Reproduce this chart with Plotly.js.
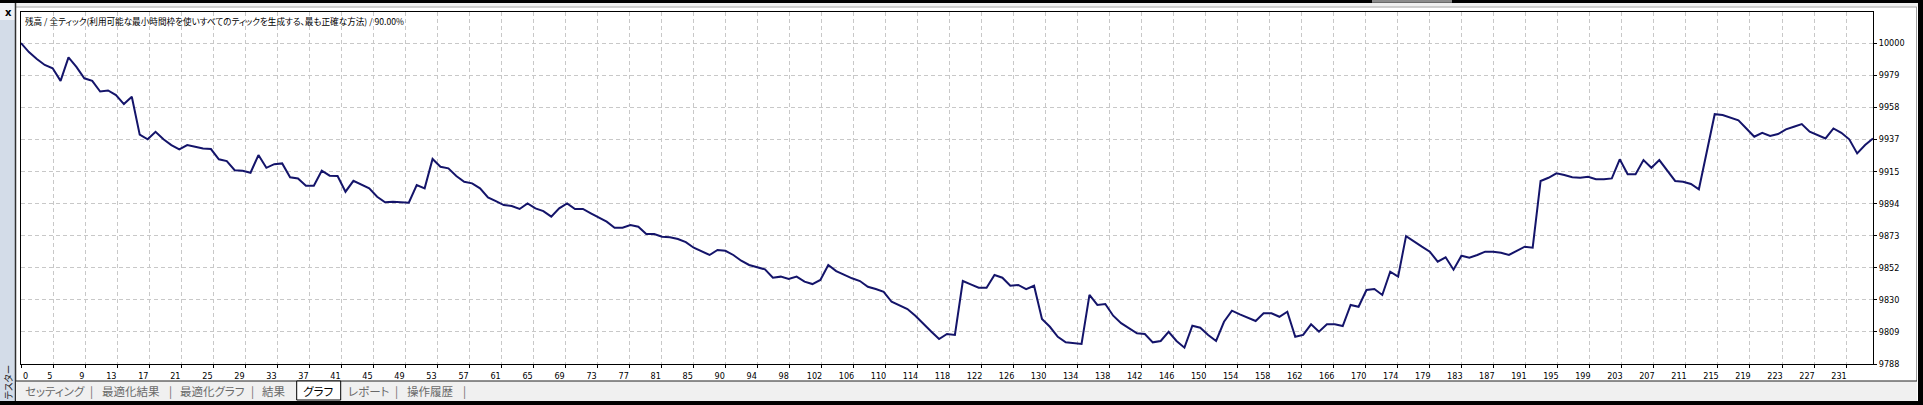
<!DOCTYPE html>
<html>
<head>
<meta charset="utf-8">
<script src="https://cdn.plot.ly/plotly-3.0.1.min.js"></script>
<style>
html,body{margin:0;padding:0;background:#fff;}
#chart{width:1923px;height:405px;}
text{font-feature-settings:"palt" 1;}
</style>
</head>
<body>
<div id="chart"></div>
<script>
// ---- data ----
const titleText = '残高 / 全ティック(利用可能な最小時間枠を使いすべてのティックを生成する、最も正確な方法) / 90.00%';
const xLabels = [0,5,9,13,17,21,25,29,33,37,41,45,49,53,57,61,65,69,73,77,81,85,90,94,98,102,106,110,114,118,122,126,130,134,138,142,146,150,154,158,162,166,170,174,179,183,187,191,195,199,203,207,211,215,219,223,227,231];
const yLabels = ['9788','9809','9830','9852','9873','9894','9915','9937','9958','9979','10000'];
const balance = [
10000,9994,9989.5,9985.5,9983.3,9975,9990.5,9984.3,9976.7,9975,
9968,9968.7,9965.6,9959.7,9964.5,9939.5,9936.4,9941.4,9936.4,9932.6,
9929.8,9932.6,9931.5,9930.4,9930,9923.2,9922,9916,9915.7,9914.3,
9926,9917.6,9920,9920.5,9911.3,9910.6,9905.8,9905.8,9915.7,9912.4,
9912.2,9901.8,9909,9906.7,9904,9898.5,9894.8,9895.2,9895,9894.5,
9906.2,9904,9923.4,9918.3,9917.2,9912.2,9908.4,9907.3,9904,9898,
9895.6,9893,9892.3,9890.4,9894.1,9890.8,9889,9885.3,9890.8,9894.1,
9890.4,9890.4,9887.5,9884.9,9882,9878,9878,9879.8,9878.7,9873.9,
9873.9,9872.1,9871.7,9870.6,9868.5,9864.8,9862.2,9860,9863.3,9862.8,
9860,9856.2,9853.4,9851.7,9850.5,9845,9845.7,9844.1,9845.7,9842.4,
9840.8,9843.5,9853.4,9849.4,9846.8,9844.6,9842.8,9839,9837.5,9835.7,
9829.1,9826.5,9824.3,9819.9,9815,9809.5,9804.5,9807.8,9807.2,9842.8,
9840.6,9838.4,9838.4,9846.8,9845,9839.7,9840.2,9837.5,9839.7,9817.7,
9812.6,9806,9802.3,9801.7,9801.2,9833.6,9827,9827.6,9819.9,9815,
9811.6,9808.3,9807.8,9802.3,9803.2,9809.3,9803.2,9798.8,9813.3,9812,
9807.2,9803.2,9815.9,9823.2,9820.8,9818.6,9816.4,9821.5,9821.5,9819.2,
9822.5,9806,9807.2,9814.2,9809.3,9814.2,9814.2,9813.1,9827,9825.8,
9836.9,9837.5,9833.6,9849,9845.7,9872.5,9868.8,9865.5,9862.2,9855.6,
9858.5,9850.3,9859.5,9858.2,9860,9862.2,9862.2,9861.5,9860,9862.8,
9865.5,9864.8,9908.9,9911,9913.9,9912.8,9911.3,9911,9911.7,9910,
9910,9910.6,9923.2,9913.3,9913.3,9922.7,9917.6,9922.7,9915.7,9908.9,
9908.4,9906.9,9903.4,9928,9953,9952.5,9951,9949,9943.6,9938.1,
9940.7,9938.6,9939.9,9943,9944.7,9946.5,9941.4,9939.2,9937,9943.6,
9940.7,9936.4,9927.1,9932.6,9937
];
const tabNames = ['セッティング','最適化結果','最適化グラフ','結果','グラフ','レポート','操作履歴'];
const sideLabel = 'テスター';

// ---- geometry / styles ----
const W = 1923, H = 405, L = 21, R = 50, T = 12, B = 41;
const PW = W - L - R, PH = H - T - B;
const px = x => (x - L) / PW;
const py = y => (H - B - y) / PH;

const xIdx = balance.map((_, i) => i);
const xMax = balance.length - 1;
const xGridStep = 4.0455;
const yStep = 21.2;
const yMin = 9788;
const yMax = yMin + yStep * 10.967;

const numFont = "'Liberation Sans Narrow','DejaVu Sans Condensed','Liberation Sans',sans-serif";
const jpFont = "'Noto Sans CJK JP','Noto Sans',sans-serif";

function xTickText(v) {
  const s = String(v);
  if (v === 0) return '\u00a0'.repeat(9) + s;
  if (s.length === 1) return '\u00a0\u00a0\u00a0' + s;
  if (s.length === 2) return '\u00a0' + s;
  return s;
}

const trace = {
  type: 'scatter', mode: 'lines',
  x: xIdx, y: balance,
  line: {color: '#14146a', width: 2},
  hoverinfo: 'skip', showlegend: false
};

function rect(x0, y0, x1, y1, fill, lineColor, lw) {
  return {type: 'rect', xref: 'paper', yref: 'paper',
    x0: px(x0), x1: px(x1), y0: py(y1), y1: py(y0),
    fillcolor: fill, line: {color: lineColor || 'rgba(0,0,0,0)', width: lw || 0}, layer: 'above'};
}
function line(x0, y0, x1, y1, color, lw) {
  return {type: 'line', xref: 'paper', yref: 'paper',
    x0: px(x0), x1: px(x1), y0: py(y0), y1: py(y1),
    line: {color: color, width: lw}, layer: 'above'};
}

const shapes = [
  rect(0, 0, W, 3, '#000'),
  rect(1372, 0, 1452, 2.7, '#8c8c8c'),
  rect(0, 401, W, H, '#000'),
  rect(1918, 0, W, H, '#000'),
  rect(16, 3, 1918, 6.5, '#f0f0f0'),
  line(16, 7, 1917, 7, '#a0a0a0', 1),
  line(1916.5, 7, 1916.5, 381, '#a0a0a0', 1),
  rect(0, 3, 15, 20, '#eef1f5'),
  rect(0, 20, 15, 401, '#d3dce8'),
  line(15.5, 3, 15.5, 401, '#303030', 1.5),
  rect(16, 381, 1917, 401, '#f0f0f0'),
  line(16, 381, 1917, 381, '#202020', 1),
  rect(296.7, 381, 340.7, 400, '#ffffff', '#000', 1)
];

const tabCenters = [55.5, 131.2, 211.7, 274.2, 318.3, 368.7, 430];
const sepCenters = [91, 170.7, 252.3, 396.7, 464.3];
const annotations = [];
annotations.push({xref: 'paper', yref: 'paper', x: px(23.3), y: py(20.7), xanchor: 'left', yanchor: 'middle', align: 'left',
  text: titleText, showarrow: false, font: {family: jpFont, size: 8.6, color: '#000'}});
annotations.push({xref: 'paper', yref: 'paper', x: px(8.3), y: py(12.5), xanchor: 'center', yanchor: 'middle',
  text: '<b>x</b>', showarrow: false, font: {family: "'DejaVu Sans',sans-serif", size: 10, color: '#000'}});
annotations.push({xref: 'paper', yref: 'paper', x: px(8), y: py(383), xanchor: 'center', yanchor: 'middle',
  text: sideLabel, textangle: -90, showarrow: false, font: {family: jpFont, size: 9.5, color: '#222'}});
tabNames.forEach((t, i) => {
  annotations.push({xref: 'paper', yref: 'paper', x: px(tabCenters[i]), y: py(390.5), xanchor: 'center', yanchor: 'middle',
    text: t, showarrow: false, font: {family: jpFont, size: 11.5, color: i === 4 ? '#000' : '#6a6a6a'}});
});
sepCenters.forEach(c => {
  annotations.push({xref: 'paper', yref: 'paper', x: px(c), y: py(390.5), xanchor: 'center', yanchor: 'middle',
    text: '|', showarrow: false, font: {family: jpFont, size: 11.5, color: '#6a6a6a'}});
});

const layout = {
  width: W, height: H,
  margin: {l: L, r: R, t: T, b: B, pad: 0},
  paper_bgcolor: '#ffffff', plot_bgcolor: '#ffffff',
  showlegend: false,
  xaxis: {
    range: [0, xMax], autorange: false, fixedrange: true,
    tickmode: 'array',
    tickvals: xLabels.map((_, k) => k * xGridStep),
    ticktext: xLabels.map(xTickText),
    showgrid: true, gridcolor: '#c8c8c8', gridwidth: 1, griddash: '4px,3px',
    zeroline: false, showline: true, mirror: true, linecolor: '#000', linewidth: 1,
    ticks: 'outside', ticklen: 3, tickcolor: '#000', tickwidth: 1,
    ticklabelshift: -7, ticklabeloverflow: 'allow',
    tickfont: {family: numFont, size: 9, color: '#000'},
    automargin: false
  },
  yaxis: {
    range: [yMin, yMax], autorange: false, fixedrange: true, side: 'right',
    tickmode: 'array',
    tickvals: yLabels.map((_, k) => yMin + k * yStep),
    ticktext: yLabels,
    showgrid: true, gridcolor: '#c8c8c8', gridwidth: 1, griddash: '4px,3px',
    zeroline: false, showline: true, mirror: true, linecolor: '#000', linewidth: 1,
    ticks: 'outside', ticklen: 3, tickcolor: '#000', tickwidth: 1,
    ticklabeloverflow: 'allow',
    tickfont: {family: numFont, size: 9, color: '#000'},
    automargin: false
  },
  shapes: shapes,
  annotations: annotations
};

Plotly.newPlot('chart', [trace], layout, {staticPlot: true, displayModeBar: false});
</script>
</body>
</html>
